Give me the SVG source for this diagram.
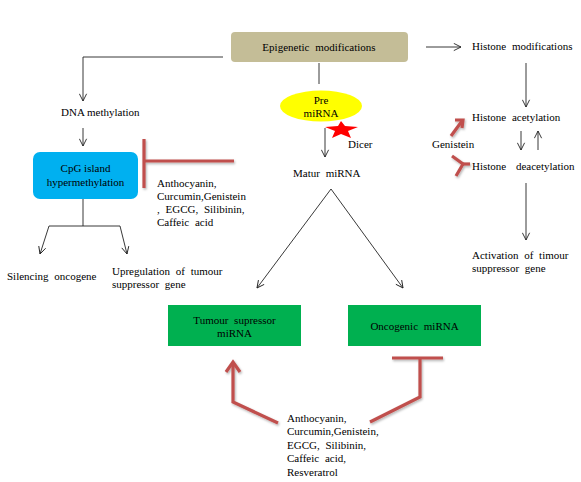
<svg xmlns="http://www.w3.org/2000/svg" width="581" height="482" viewBox="0 0 581 482">
<style>
text{font-family:"Liberation Serif","DejaVu Serif",serif;font-size:11px;fill:#000}
.m{text-anchor:middle}
.w{word-spacing:3px}
.ln{fill:none;stroke:#222;stroke-width:0.9}
.rd{fill:none;stroke:#C0504D;stroke-width:3.2;stroke-linejoin:miter}
</style>
<defs>
<marker id="ar" viewBox="0 0 10 10" refX="9" refY="5" markerWidth="9" markerHeight="9" markerUnits="userSpaceOnUse" orient="auto">
<path d="M1,1 L9,5 L1,9" fill="none" stroke="#222" stroke-width="1"/>
</marker>
<filter id="sh" x="-20%" y="-20%" width="140%" height="140%">
<feDropShadow dx="1" dy="1.5" stdDeviation="1" flood-color="#000" flood-opacity="0.3"/>
</filter>
</defs>

<g id="connectors">
<polyline class="ln" points="223,57 83,57 83,101" marker-end="url(#ar)"/>
<line class="ln" x1="83" y1="128" x2="83" y2="146" marker-end="url(#ar)"/>
<line class="ln" x1="83" y1="199" x2="83" y2="226"/>
<line class="ln" x1="49" y1="226" x2="120" y2="226"/>
<line class="ln" x1="49" y1="226" x2="40" y2="254" marker-end="url(#ar)"/>
<line class="ln" x1="120" y1="226" x2="127" y2="254" marker-end="url(#ar)"/>
<line class="ln" x1="319" y1="63" x2="319" y2="84"/>
<line class="ln" x1="325" y1="128" x2="325" y2="157" marker-end="url(#ar)"/>
<line class="ln" x1="331" y1="189" x2="257" y2="288" marker-end="url(#ar)"/>
<line class="ln" x1="331" y1="189" x2="403" y2="288" marker-end="url(#ar)"/>
<line class="ln" x1="426" y1="47" x2="461" y2="47" marker-end="url(#ar)"/>
<line class="ln" x1="526" y1="63" x2="526" y2="107" marker-end="url(#ar)"/>
<line class="ln" x1="521" y1="131" x2="521" y2="150" marker-end="url(#ar)"/>
<line class="ln" x1="538" y1="150" x2="538" y2="131" marker-end="url(#ar)"/>
<line class="ln" x1="526" y1="183" x2="526" y2="240" marker-end="url(#ar)"/>
<g filter="url(#sh)">
<line class="rd" x1="234" y1="161" x2="144" y2="161"/>
<line class="rd" x1="144" y1="139" x2="144" y2="188"/>
<line class="rd" x1="451" y1="136" x2="462" y2="121" stroke-width="3"/>
<polyline class="rd" points="455,120 463,120 462,128" stroke-width="3"/>
<polyline class="rd" points="452,156 463,164 456,176" stroke-width="3"/>
<line class="rd" x1="463" y1="164" x2="470" y2="164" stroke-width="2.5"/>
<polyline class="rd" points="278,423 233,402 233,362"/>
<polyline class="rd" points="226,372 233,362 240,372"/>
<polyline class="rd" points="370,422 420,397 420,358"/>
<line class="rd" x1="392" y1="358" x2="443" y2="358"/>
</g>
</g>

<g id="epigenetic">
<rect x="231" y="32" width="177" height="30" rx="4" fill="#C4BD97"/>
<text class="m w" x="319" y="51">Epigenetic modifications</text>
</g>

<g id="dna-methylation">
<text x="61" y="116">DNA methylation</text>
</g>

<g id="cpg">
<rect x="33" y="152" width="105" height="47" rx="7" fill="#00B0F0"/>
<text class="m" x="85.5" y="172">CpG island</text>
<text class="m" x="85.5" y="186">hypermethylation</text>
</g>

<g id="inhibitors-cpg">
<text x="157" y="187">Anthocyanin,</text>
<text x="157" y="200">Curcumin,Genistein</text>
<text x="157" y="213" class="w">, EGCG, Silibinin,</text>
<text x="157" y="226" class="w">Caffeic acid</text>
</g>

<g id="silencing">
<text x="7" y="280" class="w">Silencing oncogene</text>
</g>

<g id="upregulation">
<text x="112" y="275" class="w">Upregulation of tumour</text>
<text x="112" y="288" class="w">suppressor gene</text>
</g>

<g id="pre-mirna">
<ellipse cx="321" cy="106" rx="41" ry="15.5" fill="#FFFF00"/>
<text class="m" x="321" y="104">Pre</text>
<text class="m" x="321" y="117">miRNA</text>
</g>

<g id="dicer">
<polygon points="341,121 345,126 358,127 348,131 351,138 341,134 332,138 335,131 325,127 338,126" fill="#FF0000"/>
<text x="348" y="148">Dicer</text>
</g>

<g id="matur-mirna">
<text x="293" y="177" class="w">Matur miRNA</text>
</g>

<g id="histone-modifications">
<text x="472" y="50" class="w">Histone modifications</text>
</g>

<g id="histone-acetylation">
<text x="472" y="121" class="w">Histone acetylation</text>
</g>

<g id="genistein">
<text x="432" y="148">Genistein</text>
</g>

<g id="histone-deacetylation">
<text x="472" y="170" style="word-spacing:7px">Histone deacetylation</text>
</g>

<g id="activation">
<text x="472" y="259" class="w">Activation of timour</text>
<text x="472" y="272" class="w">suppressor gene</text>
</g>

<g id="tumour-suppressor-mirna">
<rect x="168" y="305" width="133" height="41" fill="#00B050"/>
<text class="m w" x="234.5" y="324">Tumour supressor</text>
<text class="m" x="234.5" y="337">miRNA</text>
</g>

<g id="oncogenic-mirna">
<rect x="348" y="305" width="133" height="41" fill="#00B050"/>
<text class="m w" x="414.5" y="330">Oncogenic miRNA</text>
</g>

<g id="inhibitors-mirna">
<text x="287" y="422">Anthocyanin,</text>
<text x="287" y="435">Curcumin,Genistein,</text>
<text x="287" y="449" class="w">EGCG, Silibinin,</text>
<text x="287" y="462" class="w">Caffeic acid,</text>
<text x="287" y="476">Resveratrol</text>
</g>
</svg>
